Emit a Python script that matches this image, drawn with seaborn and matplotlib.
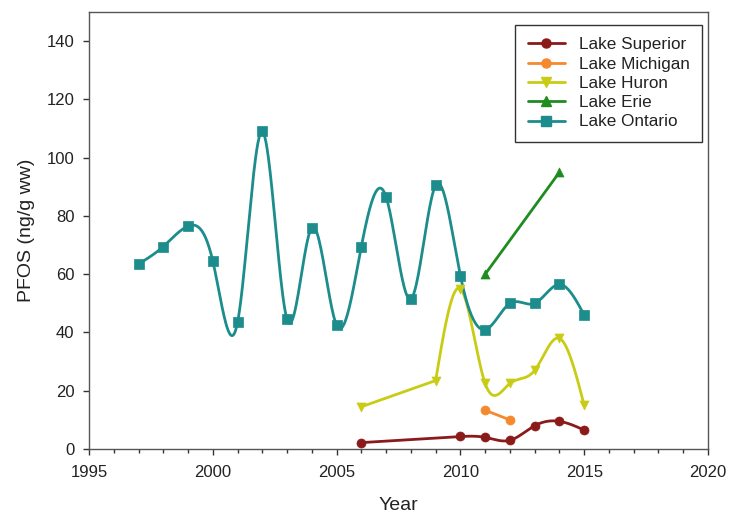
import numpy as np
import pandas as pd
import matplotlib
matplotlib.use("Agg")
import matplotlib.pyplot as plt
from matplotlib.lines import Line2D
from matplotlib.ticker import MultipleLocator
import seaborn as sns

# PFOS concentrations (ng/g ww) by lake and sampling year
superior_years = [2006, 2010, 2011, 2012, 2013, 2014, 2015]
superior_pfos = [2.2, 4.3, 4.0, 3.0, 8.0, 9.5, 6.5]

michigan_years = [2011, 2012]
michigan_pfos = [13.3, 10.0]

huron_years = [2006, 2009, 2010, 2011, 2012, 2013, 2014, 2015]
huron_pfos = [14.5, 23.5, 55.0, 22.5, 22.5, 27.0, 38.0, 15.0]

erie_years = [2011, 2014]
erie_pfos = [60.0, 95.0]

ontario_years = [1997, 1998, 1999, 2000, 2001, 2002, 2003, 2004, 2005, 2006,
                 2007, 2008, 2009, 2010, 2011, 2012, 2013, 2014, 2015]
ontario_pfos = [63.5, 69.5, 76.5, 64.5, 43.5, 109.0, 44.5, 76.0, 42.5, 69.5,
                86.5, 51.5, 90.5, 59.5, 41.0, 50.0, 50.0, 56.5, 46.0]

lake_names = ["Lake Superior", "Lake Michigan", "Lake Huron", "Lake Erie", "Lake Ontario"]
series = [(superior_years, superior_pfos), (michigan_years, michigan_pfos),
          (huron_years, huron_pfos), (erie_years, erie_pfos),
          (ontario_years, ontario_pfos)]
colors = ["#8B1A1A", "#F5892E", "#C9CC14", "#1E8C1E", "#1C8C8C"]
markers = ["o", "o", "v", "^", "s"]


def natural_spline(x, y, n=40):
    """Natural cubic spline through (x, y)."""
    x = np.asarray(x, float)
    y = np.asarray(y, float)
    k = len(x)
    if k < 3:
        return x, y
    h = np.diff(x)
    A = np.zeros((k, k))
    r = np.zeros(k)
    A[0, 0] = A[-1, -1] = 1.0
    for i in range(1, k - 1):
        A[i, i - 1] = h[i - 1]
        A[i, i] = 2 * (h[i - 1] + h[i])
        A[i, i + 1] = h[i]
        r[i] = 6 * ((y[i + 1] - y[i]) / h[i] - (y[i] - y[i - 1]) / h[i - 1])
    M = np.linalg.solve(A, r)
    xs, ys = [], []
    for i in range(k - 1):
        t = np.linspace(x[i], x[i + 1], n, endpoint=(i == k - 2))
        a = (x[i + 1] - t) / h[i]
        b = (t - x[i]) / h[i]
        s = (a * y[i] + b * y[i + 1]
             + ((a**3 - a) * M[i] + (b**3 - b) * M[i + 1]) * h[i]**2 / 6)
        xs.append(t)
        ys.append(s)
    return np.concatenate(xs), np.concatenate(ys)


def smooth_curve(x, y):
    """Spline over runs of consecutive years; straight segments across gaps."""
    x = np.asarray(x, float)
    y = np.asarray(y, float)
    breaks = np.where(np.diff(x) > 1)[0] + 1
    xs, ys = [], []
    for rx, ry in zip(np.split(x, breaks), np.split(y, breaks)):
        cx, cy = natural_spline(rx, ry)
        xs.append(cx)
        ys.append(cy)
    return np.concatenate(xs), np.concatenate(ys)


sns.set_style("ticks")
plt.rcParams["font.family"] = ["Liberation Sans", "DejaVu Sans"]

fig = plt.figure(figsize=(7.32, 5.17), dpi=100)
ax = fig.add_axes([0.1216, 0.1315, 0.8456, 0.8453])

for name, (xv, yv), c, mk in zip(lake_names, series, colors, markers):
    cx, cy = smooth_curve(xv, yv)
    curve = pd.DataFrame({"Year": cx, "PFOS": cy})
    pts = pd.DataFrame({"Year": xv, "PFOS": yv})
    sns.lineplot(data=curve, x="Year", y="PFOS", ax=ax, color=c, lw=2.0,
                 sort=False, estimator=None, legend=False)
    sns.scatterplot(data=pts, x="Year", y="PFOS", ax=ax, color=c, marker=mk,
                    s=42, edgecolor=c, linewidth=0.5, legend=False, zorder=3)

ax.set_xlim(1995, 2020)
ax.set_ylim(0, 150)
ax.set_xticks([1995, 2000, 2005, 2010, 2015, 2020])
ax.xaxis.set_minor_locator(MultipleLocator(1))
ax.set_yticks(np.arange(0, 141, 20))
ax.tick_params(axis="both", which="major", direction="out", length=4.5, width=1,
               labelsize=12, color="#333333", labelcolor="#222222")
ax.tick_params(axis="y", which="major", pad=6)
ax.tick_params(axis="x", which="major", pad=7)
ax.tick_params(axis="x", which="minor", direction="out", length=3, width=1, color="#333333")
for sp in ax.spines.values():
    sp.set_visible(True)
    sp.set_color("#555555")
    sp.set_linewidth(1.0)

ax.set_xlabel("Year", fontsize=14, color="#222222", labelpad=12)
ax.set_ylabel("PFOS (ng/g ww)", fontsize=14, color="#222222", labelpad=8)

handles = [Line2D([0], [0], color=c, lw=2.0, marker=mk, markersize=6.5,
                  markerfacecolor=c, markeredgecolor=c)
           for c, mk in zip(colors, markers)]
leg = ax.legend(handles, lake_names, loc="upper right",
                bbox_to_anchor=(0.9903, 0.970), borderaxespad=0.0,
                fontsize=12.3, frameon=True, fancybox=False, edgecolor="#333333",
                framealpha=1, handlelength=2.2, handletextpad=0.8,
                labelspacing=0.25, borderpad=0.72)
leg.get_frame().set_linewidth(1.0)
for t in leg.get_texts():
    t.set_color("#222222")

fig.savefig("out.png", dpi=100)
